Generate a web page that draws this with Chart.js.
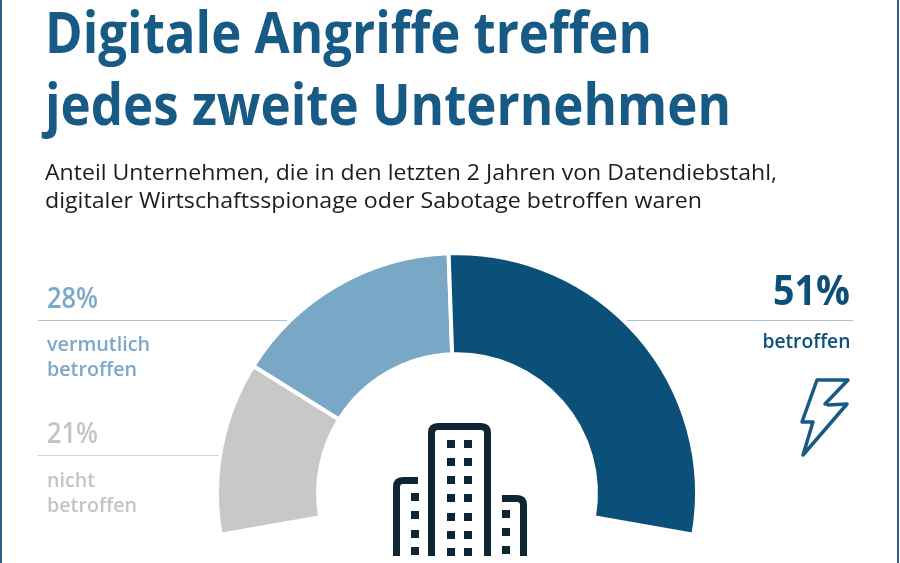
<!DOCTYPE html>
<html lang="de">
<head>
<meta charset="utf-8">
<title>Digitale Angriffe treffen jedes zweite Unternehmen</title>
<script src="https://cdn.jsdelivr.net/npm/chart.js@4.4.1/dist/chart.umd.min.js"></script>
<style>
  html, body { margin: 0; padding: 0; background: #fff; }
  #page { position: relative; width: 900px; height: 563px; overflow: hidden; font-family: "Open Sans", "Noto Sans", sans-serif; }
  #deco, #chart { position: absolute; left: 0; top: 0; }
  .t { position: absolute; white-space: nowrap; line-height: 1; transform-origin: left top; }
  .r { transform-origin: right top; }
  .title { font-size: 58px; font-weight: 700; color: #175a85; left: 45px; }
  .sub { font-size: 22px; font-weight: 400; color: #1c1c1c; left: 45px; }
  .pct { font-size: 28px; font-weight: 600; left: 47px; }
  .lab { font-size: 20px; font-weight: 600; left: 47px; }
</style>
</head>
<body>
<div id="page">
  <svg id="deco" width="900" height="563">
    <!-- frame -->
    <line x1="1" y1="0" x2="1" y2="563" stroke="#2b5f86" stroke-width="2"/>
    <line x1="898" y1="0" x2="898" y2="563" stroke="#2b5f86" stroke-width="2"/>
    <!-- leader lines -->
    <line x1="38" y1="320.5" x2="300" y2="320.5" stroke="#a9c5d7" stroke-width="1"/>
    <line x1="38" y1="455.5" x2="235" y2="455.5" stroke="#c9d3da" stroke-width="1"/>
    <line x1="610" y1="320.5" x2="853" y2="320.5" stroke="#a9c5d7" stroke-width="1"/>
    <!-- lightning bolt -->
    <path d="M828,405 L847,404 L803,455 L813,422 L802,422 L817,380 L848,380 L825,404"
          fill="none" stroke="#175a85" stroke-width="3.5" stroke-linejoin="round" stroke-linecap="round"/>
    <!-- building -->
    <g fill="none" stroke="#0e2633" stroke-width="7">
      <path d="M431.5,556 V433 Q431.5,426.5 438,426.5 H481 Q487.5,426.5 487.5,433 V556"/>
      <path d="M396.5,556 V487 Q396.5,480.5 403,480.5 H418"/>
      <path d="M502,498.5 H517 Q523.5,498.5 523.5,505 V556"/>
    </g>
    <g fill="#0e2633" id="windows"></g>
  </svg>
  <canvas id="chart" width="900" height="563"></canvas>

  <div class="t title" style="top:1.5px" data-w="607">Digitale Angriffe treffen</div>
  <div class="t title" style="top:73.5px" data-w="686">jedes zweite Unternehmen</div>
  <div class="t sub" style="top:159.5px" data-w="732">Anteil Unternehmen, die in den letzten 2 Jahren von Datendiebstahl,</div>
  <div class="t sub" style="top:187.5px" data-w="657">digitaler Wirtschaftsspionage oder Sabotage betroffen waren</div>

  <div class="t pct" style="top:283px; color:#7ba8c6" data-w="51">28%</div>
  <div class="t lab" style="top:334px; color:#7ba8c6" data-w="103">vermutlich</div>
  <div class="t lab" style="top:359px; color:#7ba8c6" data-w="90">betroffen</div>

  <div class="t pct" style="top:418px; color:#c4c4c4" data-w="51">21%</div>
  <div class="t lab" style="top:470px; color:#c4c4c4" data-w="48">nicht</div>
  <div class="t lab" style="top:495px; color:#c4c4c4" data-w="90">betroffen</div>

  <div class="t r" style="top:267.5px; right:50px; font-size:42px; font-weight:700; color:#0d4f78" data-w="77">51%</div>
  <div class="t r lab" style="top:331px; right:50px; left:auto; color:#0d4f78" data-w="88">betroffen</div>
</div>

<script>
// data
const categories = ['nicht betroffen', 'vermutlich betroffen', 'betroffen'];
const shares = [21, 28, 51];
const segmentColors = ['#c8c8c8', '#78a8c6', '#0b5078'];

// little window squares of the building icon
const win = document.getElementById('windows');
function sq(x, y) {
  const r = document.createElementNS('http://www.w3.org/2000/svg', 'rect');
  r.setAttribute('x', x); r.setAttribute('y', y);
  r.setAttribute('width', 8); r.setAttribute('height', 8);
  win.appendChild(r);
}
[440, 458, 476, 494, 513, 531, 548].forEach(function (y) { sq(447, y); sq(464, y); });
[493, 511, 530, 547].forEach(function (y) { sq(411, y); });
[510, 528, 546].forEach(function (y) { sq(502, y); });

// half doughnut
const ctx = document.getElementById('chart').getContext('2d');
new Chart(ctx, {
  type: 'doughnut',
  data: {
    labels: categories,
    datasets: [{
      data: shares,
      backgroundColor: segmentColors,
      borderColor: '#ffffff',
      borderWidth: 4,
      clip: false
    }]
  },
  options: {
    responsive: false,
    animation: false,
    rotation: -100,
    circumference: 200,
    radius: 240,
    cutout: '57.9%',
    layout: { padding: { left: 14, right: 0, top: 225, bottom: 0 } },
    plugins: {
      legend: { display: false },
      tooltip: { enabled: false }
    }
  }
});

// squeeze the texts to the widths of the original typeface
function fitTexts() {
  document.querySelectorAll('.t').forEach(function (el) {
    const w = el.getBoundingClientRect().width;
    const target = +el.dataset.w;
    if (w > 0 && target) el.style.transform = 'scaleX(' + (target / w) + ')';
  });
}
fitTexts();
if (document.fonts) document.fonts.ready.then(function () {
  document.querySelectorAll('.t').forEach(function (el) { el.style.transform = ''; });
  fitTexts();
});
</script>
</body>
</html>
